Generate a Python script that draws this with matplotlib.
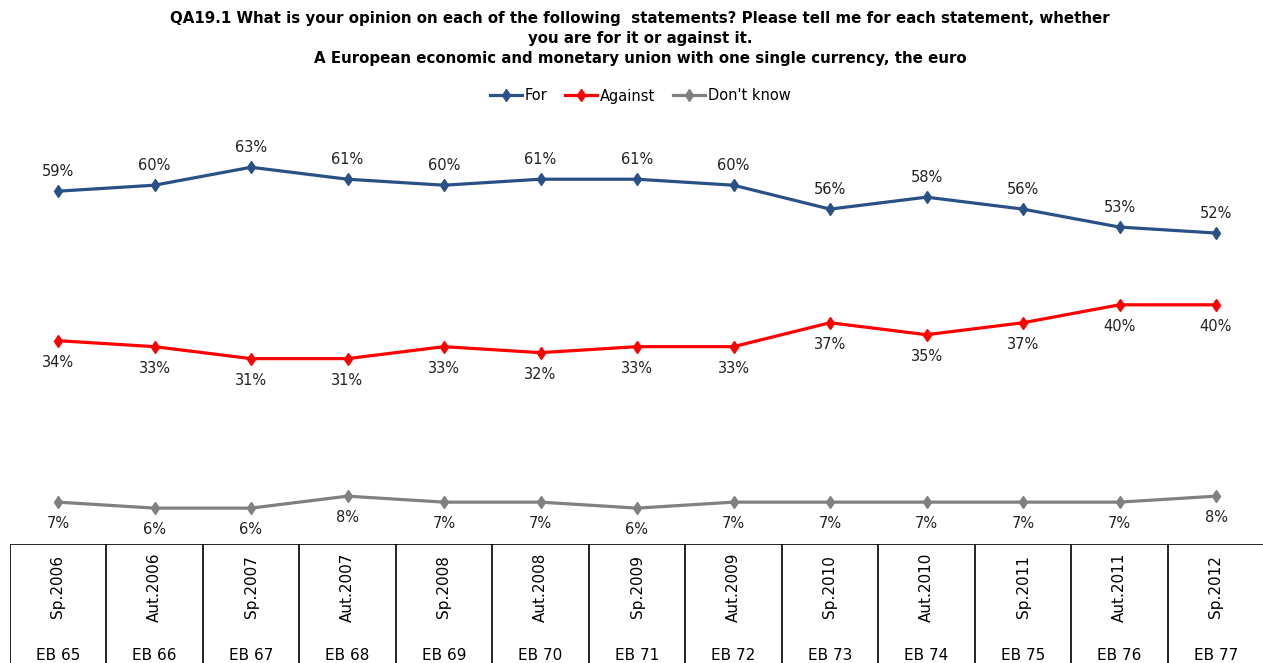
import matplotlib.pyplot as plt

waves = ["Sp.2006", "Aut.2006", "Sp.2007", "Aut.2007", "Sp.2008", "Aut.2008", "Sp.2009",
         "Aut.2009", "Sp.2010", "Aut.2010", "Sp.2011", "Aut.2011", "Sp.2012"]
surveys = ["EB 65", "EB 66", "EB 67", "EB 68", "EB 69", "EB 70", "EB 71",
           "EB 72", "EB 73", "EB 74", "EB 75", "EB 76", "EB 77"]
for_vals = [59, 60, 63, 61, 60, 61, 61, 60, 56, 58, 56, 53, 52]
against_vals = [34, 33, 31, 31, 33, 32, 33, 33, 37, 35, 37, 40, 40]
dontknow_vals = [7, 6, 6, 8, 7, 7, 6, 7, 7, 7, 7, 7, 8]

W, H = 1263, 663
fig = plt.figure(figsize=(W / 100, H / 100), dpi=100)

left = 9.75 / W
width = 1254.5 / W
table_top = (H - 544) / H
ax = fig.add_axes([left, table_top, width, (544 - 120) / H])
tab = fig.add_axes([left, 0, width, table_top])

x = list(range(len(waves)))
series = [
    ("For", for_vals, "#2a5185", 1),
    ("Against", against_vals, "#ff0000", -1),
    ("Don't know", dontknow_vals, "#808080", -1),
]
for name, vals, col, side in series:
    ax.plot(x, vals, color=col, lw=2.3, marker="d", ms=6, label=name)
    for xi, v in zip(x, vals):
        ax.annotate(f"{v}%", (xi, v), xytext=(0, 9 if side > 0 else -10),
                    textcoords="offset points", ha="center",
                    va="bottom" if side > 0 else "top", fontsize=10.5, color="#222222")

ax.set_xlim(-0.5, 12.5)
ax.set_ylim(0, 424 / 5.98)
ax.axis("off")

tab.set_xlim(-0.5, 12.5)
tab.set_ylim(0, 1)
tab.axis("off")
tab.axhline(1, color="black", lw=1.2)
for b in range(len(waves) + 1):
    tab.axvline(b - 0.5, color="black", lw=1.2)
for xi in x:
    tab.text(xi, 0.64, waves[xi], rotation=90, ha="center", va="center", fontsize=11)
    tab.text(xi, 0.065, surveys[xi], ha="center", va="center", fontsize=11)

fig.text(640 / W, 1 - 11 / H,
         "QA19.1 What is your opinion on each of the following  statements? Please tell me for each statement, whether\n"
         "you are for it or against it.\n"
         "A European economic and monetary union with one single currency, the euro",
         ha="center", va="top", fontsize=10.8, fontweight="bold", linespacing=1.42)

fig.legend(loc="center", bbox_to_anchor=(640 / W, 1 - 96 / H), ncol=3, frameon=False,
           fontsize=10.5, handlelength=2.2, handletextpad=0.2, columnspacing=1.2)

fig.savefig("out.png", dpi=100)
